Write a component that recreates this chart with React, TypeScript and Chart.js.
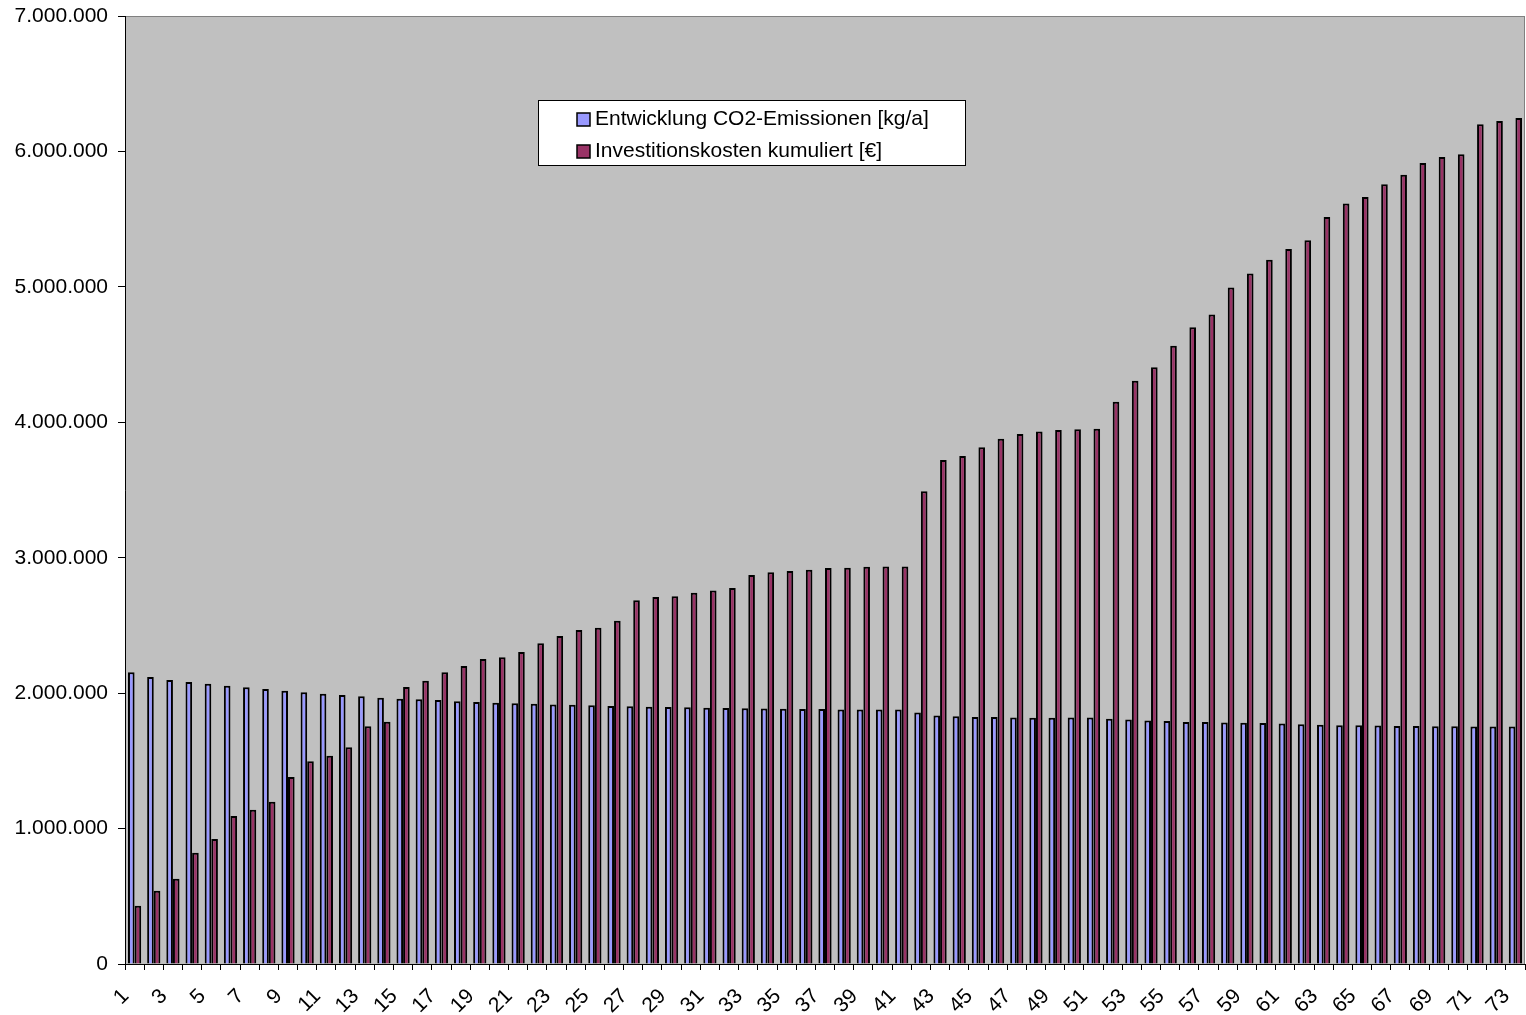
import React, { useEffect, useRef } from "react";
import { Chart, registerables } from "chart.js";

Chart.register(...registerables);

const categories: string[] = Array.from({ length: 73 }, (_, i) => String(i + 1));

const co2Emissions: number[] = [
  2154000, 2119000, 2097000, 2082000, 2070000, 2055000, 2043000, 2031000, 2018000, 2006000,
  1996000, 1986000, 1977000, 1966000, 1959000, 1954000, 1949000, 1940000, 1935000, 1929000,
  1926000, 1922000, 1917000, 1915000, 1910000, 1905000, 1903000, 1900000, 1898000, 1895000,
  1893000, 1890000, 1888000, 1887000, 1885000, 1883000, 1882000, 1880000, 1880000, 1880000,
  1880000, 1857000, 1835000, 1830000, 1824000, 1824000, 1821000, 1819000, 1819000, 1821000,
  1821000, 1811000, 1806000, 1798000, 1794000, 1787000, 1786000, 1783000, 1782000, 1779000,
  1775000, 1770000, 1766000, 1762000, 1762000, 1761000, 1758000, 1758000, 1755000, 1755000,
  1754000, 1754000, 1754000,
];

const investCumulative: number[] = [
  431000, 541000, 630000, 822000, 923000, 1093000, 1139000, 1198000, 1381000, 1497000,
  1538000, 1600000, 1755000, 1789000, 2045000, 2092000, 2154000, 2200000, 2252000, 2265000,
  2304000, 2368000, 2422000, 2466000, 2483000, 2535000, 2685000, 2710000, 2715000, 2742000,
  2757000, 2776000, 2872000, 2892000, 2902000, 2911000, 2924000, 2926000, 2934000, 2935000,
  2935000, 3490000, 3721000, 3751000, 3815000, 3879000, 3913000, 3932000, 3943000, 3949000,
  3952000, 4152000, 4307000, 4406000, 4566000, 4701000, 4795000, 4996000, 5098000, 5201000,
  5279000, 5344000, 5516000, 5615000, 5664000, 5758000, 5828000, 5914000, 5959000, 5980000,
  6201000, 6225000, 6246000,
];

const seriesLabels: string[] = [
  "Entwicklung CO2-Emissionen [kg/a]",
  "Investitionskosten kumuliert [€]",
];

const yMax = 7000000;
const yStep = 1000000;

const FONT = '"Liberation Sans", Arial, sans-serif';

function fmtDE(v: number): string {
  return String(Math.round(v)).replace(/\B(?=(\d{3})+(?!\d))/g, ".");
}

const plotBgPlugin = {
  id: "plotBg",
  beforeDraw(chart: any) {
    const { ctx, chartArea } = chart;
    const { left, top, right, bottom } = chartArea;
    ctx.save();
    ctx.fillStyle = "#C0C0C0";
    ctx.fillRect(left, top, right - left, bottom - top);
    ctx.strokeStyle = "#808080";
    ctx.lineWidth = 1;
    ctx.strokeRect(left + 0.5, top + 0.5, right - left - 1, bottom - top);
    ctx.restore();
  },
};

const boxLegendPlugin = {
  id: "boxLegend",
  afterDraw(chart: any) {
    const { ctx } = chart;
    const x = 538.5;
    const y = 100.5;
    const w = 427;
    const h = 65;
    ctx.save();
    ctx.fillStyle = "#FFFFFF";
    ctx.fillRect(x, y, w, h);
    ctx.strokeStyle = "#000000";
    ctx.lineWidth = 1;
    ctx.strokeRect(x, y, w, h);
    ctx.font = `21px ${FONT}`;
    ctx.textBaseline = "middle";
    ctx.textAlign = "left";
    chart.data.datasets.forEach((ds: any, i: number) => {
      const cy = 119.5 + i * 32;
      ctx.fillStyle = ds.backgroundColor;
      ctx.fillRect(577, cy - 6.5, 13, 13);
      ctx.strokeStyle = "#000000";
      ctx.lineWidth = 1.5;
      ctx.strokeRect(577, cy - 6.5, 13, 13);
      ctx.fillStyle = "#000000";
      ctx.fillText(ds.label, 595, cy);
    });
    ctx.restore();
  },
};

export default function App() {
  const ref = useRef<HTMLCanvasElement | null>(null);

  useEffect(() => {
    if (!ref.current) return;
    const chart = new Chart(ref.current, {
      type: "bar",
      data: {
        labels: categories,
        datasets: [
          {
            label: seriesLabels[0],
            data: co2Emissions,
            backgroundColor: "#9999FF",
            borderColor: "#000000",
            borderWidth: 2,
            categoryPercentage: 0.69,
            barPercentage: 1.0,
          },
          {
            label: seriesLabels[1],
            data: investCumulative,
            backgroundColor: "#993366",
            borderColor: "#000000",
            borderWidth: 2,
            categoryPercentage: 0.69,
            barPercentage: 1.0,
          },
        ],
      },
      options: {
        responsive: false,
        animation: false,
        devicePixelRatio: 1,
        layout: { padding: { top: 16, right: 1, left: 0, bottom: 0 } },
        plugins: {
          legend: { display: false },
          tooltip: { enabled: false },
        },
        scales: {
          x: {
            offset: true,
            grid: {
              offset: true,
              drawOnChartArea: false,
              drawTicks: true,
              tickLength: 6,
              color: "#000000",
            },
            border: { color: "#000000", width: 1 },
            ticks: {
              autoSkip: false,
              minRotation: 45,
              maxRotation: 45,
              padding: 14,
              labelOffset: -9,
              color: "#000000",
              font: { family: FONT, size: 21 },
              callback: (_v: any, i: number) => (i % 2 === 0 ? categories[i] : ""),
            },
            afterFit: (scale: any) => {
              scale.height = 51;
              scale.paddingLeft = 0;
              scale.paddingRight = 0;
            },
          },
          y: {
            min: 0,
            max: yMax,
            ticks: {
              stepSize: yStep,
              padding: 10,
              color: "#000000",
              font: { family: FONT, size: 21 },
              callback: (v: any) => fmtDE(Number(v)),
            },
            grid: {
              drawOnChartArea: false,
              drawTicks: true,
              tickLength: 7,
              color: "#000000",
            },
            border: { color: "#000000", width: 1 },
            afterFit: (scale: any) => {
              scale.width = 125;
              scale.paddingTop = 0;
              scale.paddingBottom = 0;
            },
          },
        },
      },
      plugins: [plotBgPlugin, boxLegendPlugin],
    });
    return () => chart.destroy();
  }, []);

  return (
    <div
      style={{
        position: "fixed",
        left: 0,
        top: 0,
        width: 1526,
        height: 1015,
        background: "#FFFFFF",
      }}
    >
      <canvas ref={ref} width={1526} height={1015} style={{ display: "block" }} />
    </div>
  );
}
